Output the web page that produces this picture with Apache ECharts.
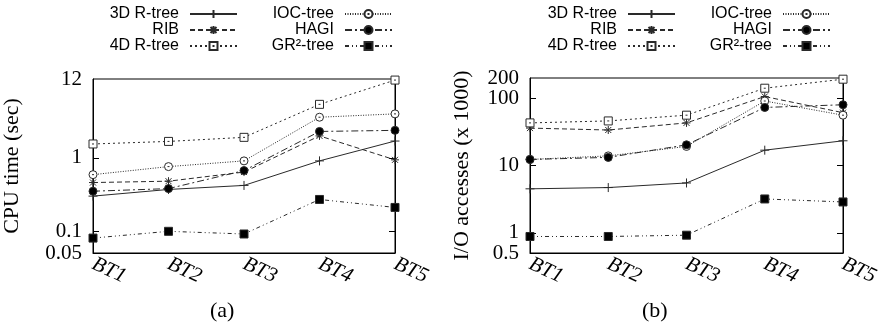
<!DOCTYPE html>
<html>
<head>
<meta charset="utf-8">
<script src="https://cdn.jsdelivr.net/npm/echarts@6/dist/echarts.min.js"></script>
<style>html,body{margin:0;padding:0;background:#fff;}#c{width:887px;height:334px;}</style>
</head>
<body>
<div id="c"></div>
<script>
const categories = ['BT1', 'BT2', 'BT3', 'BT4', 'BT5'];
const seriesNames = ['3D R-tree', 'RIB', '4D R-tree', 'IOC-tree', 'HAGI', 'GR\u00b2-tree'];

// (a) CPU time (sec)
const cpu3D   = [0.30, 0.37, 0.42, 0.91, 1.7];
const cpuRIB  = [0.46, 0.48, 0.64, 2.0, 0.94];
const cpu4D   = [1.55, 1.68, 1.91, 5.4, 11.6];
const cpuIOC  = [0.59, 0.76, 0.91, 3.6, 4.0];
const cpuHAGI = [0.35, 0.38, 0.67, 2.3, 2.38];
const cpuGR2  = [0.080, 0.099, 0.091, 0.27, 0.21];

// (b) I/O accesses (x 1000)
const io3D   = [4.5, 4.7, 5.5, 16.9, 23.3];
const ioRIB  = [36, 33.7, 43, 106, 61];
const io4D   = [43, 46, 56, 141, 192];
const ioIOC  = [12.3, 13.9, 19.2, 91, 56];
const ioHAGI = [12.3, 13.2, 20.3, 73, 80];
const ioGR2  = [0.88, 0.88, 0.92, 3.18, 2.87];

const cpuLabels = [0.05, 0.1, 1, 12];
const cpuTicks = [0.1, 1];
const ioLabels = [0.5, 1, 10, 100, 200];
const ioTicks = [1, 10, 100];

const cpuData = [cpu3D, cpuRIB, cpu4D, cpuIOC, cpuHAGI, cpuGR2];
const ioData = [io3D, ioRIB, io4D, ioIOC, ioHAGI, ioGR2];

const LC = '#2a2a2a';
const styles = [
  { symbol: 'path://M0,4H8M4,0V8', fill: 'none', dash: 'solid', size: 9 },
  { symbol: 'path://M0,4H8M1,1L7,7M1,7L7,1M4,0V8', fill: 'none', dash: [5, 3], size: 8 },
  { symbol: 'path://M0,0H8V8H0ZM3,4H5', fill: '#fff', dash: [2, 3], size: 8 },
  { symbol: 'path://M0,4A4,4,0,1,1,8,4A4,4,0,1,1,0,4ZM3,4H5', fill: '#fff', dash: [1, 1.5], size: 8 },
  { symbol: 'circle', fill: '#000', dash: [7, 3, 2, 3], size: 8 },
  { symbol: 'rect', fill: '#000', dash: [4, 3, 1, 3, 1, 3], size: 8 }
];

const serif = 'Liberation Serif';
const sans = 'Liberation Sans';

function makeSeries(dataArr, axisIdx) {
  return dataArr.map((d, i) => ({
    name: seriesNames[i],
    type: 'line',
    xAxisIndex: axisIdx,
    yAxisIndex: axisIdx * 3,
    data: d,
    symbol: styles[i].symbol,
    symbolSize: styles[i].size,
    showAllSymbol: true,
    animation: false,
    lineStyle: { color: LC, width: 1, type: styles[i].dash },
    itemStyle: { color: styles[i].fill, borderColor: LC, borderWidth: 1 },
    emphasis: { disabled: true }
  }));
}

const labelStyle = { fontFamily: serif, fontSize: 21, color: '#000', margin: 11,
  formatter: v => String(+(+v).toPrecision(6)) };

function yAxes(gridIdx, min, max, labels, ticks, name, nameGap) {
  const ends = [labels[0], labels[labels.length - 1]];
  const inner = labels.slice(1, labels.length - 1);
  return [
    {
      type: 'log', logBase: 10, gridIndex: gridIdx, min: min, max: max,
      name: name, nameLocation: 'middle', nameGap: nameGap,
      nameTextStyle: { fontFamily: serif, fontSize: 22, color: '#000' },
      axisLine: { show: true, lineStyle: { color: '#000', width: 1 } },
      axisTick: { show: true, inside: true, length: 6, customValues: ticks, lineStyle: { color: '#000' } },
      axisLabel: Object.assign({ show: true, customValues: inner }, labelStyle),
      splitLine: { show: false }
    },
    {
      type: 'log', logBase: 10, gridIndex: gridIdx, min: min, max: max, position: 'right',
      axisLine: { show: true, lineStyle: { color: '#000', width: 1 } },
      axisTick: { show: true, inside: true, length: 6, customValues: ticks, lineStyle: { color: '#000' } },
      axisLabel: { show: false },
      splitLine: { show: false }
    },
    {
      type: 'log', logBase: 10, gridIndex: gridIdx, min: min, max: max, position: 'left', offset: 0,
      axisLine: { show: false },
      axisTick: { show: false },
      axisLabel: Object.assign({ show: true, customValues: ends, showMinLabel: true, showMaxLabel: true }, labelStyle),
      splitLine: { show: false }
    }
  ];
}

function xAxis(gridIdx) {
  return {
    type: 'category', gridIndex: gridIdx, data: categories, boundaryGap: false,
    axisLine: { show: true, lineStyle: { color: '#000', width: 1 } },
    axisTick: { show: false },
    axisLabel: { interval: 0, rotate: -25, fontFamily: serif, fontStyle: 'italic', fontSize: 21, color: '#000', margin: 10 },
    splitLine: { show: false }
  };
}

const legendRight = [[649, 494], [211, 56]];
const rowCenters = [11, 27, 43];
const legends = [];
for (let g = 0; g < 2; g++) {
  for (let i = 0; i < 6; i++) {
    const col = i < 3 ? 0 : 1;
    const row = i % 3;
    legends.push({
      data: [seriesNames[i]],
      orient: 'vertical', align: 'right',
      right: legendRight[g][col], top: rowCenters[row] - 5,
      padding: 0, itemWidth: 47, itemHeight: 10, selectedMode: false,
      textStyle: { fontFamily: sans, fontSize: 16, color: '#000', padding: [0, 6, 0, 0] }
    });
  }
}

const chart = echarts.init(document.getElementById('c'), null, { renderer: 'canvas' });
chart.setOption({
  animation: false,
  backgroundColor: '#fff',
  legend: legends,
  grid: [
    { left: 92, right: 492, top: 79, bottom: 81, show: true, borderColor: '#000', borderWidth: 1, containLabel: false },
    { left: 530, right: 44, top: 78, bottom: 81, show: true, borderColor: '#000', borderWidth: 1, containLabel: false }
  ],
  xAxis: [xAxis(0), xAxis(1)],
  yAxis: yAxes(0, 0.05, 12, cpuLabels, cpuTicks, 'CPU time (sec)', 70)
    .concat(yAxes(1, 0.5, 200, ioLabels, ioTicks, 'I/O accesses (x 1000)', 57)),
  series: makeSeries(cpuData, 0).concat(makeSeries(ioData, 1)),
  graphic: [
    { type: 'text', left: 210, top: 300, style: { text: '(a)', fontFamily: serif, fontSize: 22, fill: '#000' } },
    { type: 'text', left: 642, top: 300, style: { text: '(b)', fontFamily: serif, fontSize: 22, fill: '#000' } }
  ]
});
</script>
</body>
</html>
